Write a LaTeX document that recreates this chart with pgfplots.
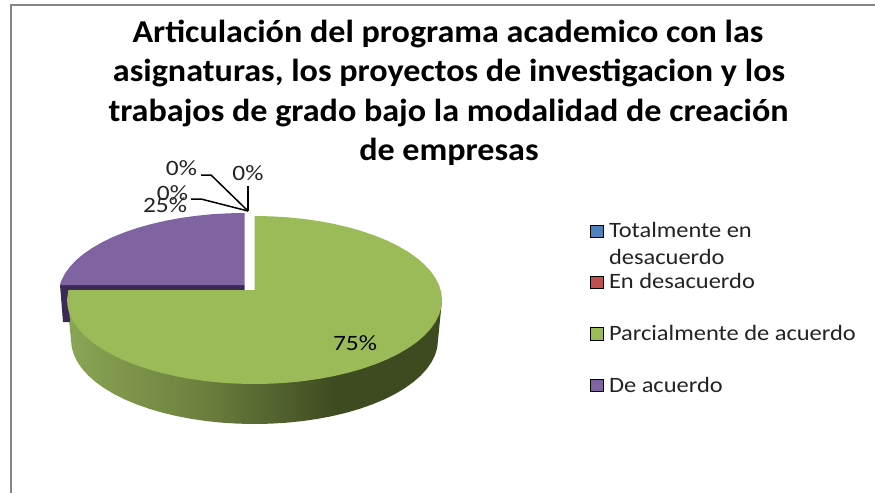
\documentclass[border=0pt]{standalone}
\usepackage{pgfplots}
\pgfplotsset{compat=1.18}
\usepackage{fontspec}
\setmainfont{Carlito}
\definecolor{pieblue}{RGB}{79,129,189}
\definecolor{piered}{RGB}{192,80,77}
\definecolor{piegreen}{RGB}{155,187,89}
\definecolor{piepurple}{RGB}{128,100,162}
\definecolor{darkpurple}{RGB}{59,42,85}
\definecolor{frameg}{RGB}{134,134,134}
\definecolor{labelc}{RGB}{35,35,35}
\definecolor{sideA}{RGB}{138,166,85}
\definecolor{sideB}{RGB}{108,128,62}
\definecolor{sideC}{RGB}{62,74,32}
\pgfdeclarehorizontalshading{greenside}{100bp}{color(0bp)=(sideA); color(25bp)=(sideA); color(43bp)=(sideB); color(61bp)=(sideC); color(100bp)=(sideC)}
\newcommand{\ttl}[1]{\scalebox{1.07}[1]{\fontsize{32}{38}\selectfont\bfseries #1}}
\newcommand{\leg}[1]{\scalebox{1.116}[1]{\fontsize{22}{26}\selectfont #1}}
\newcommand{\lab}[1]{\scalebox{1.16}[1]{\fontsize{22}{26}\selectfont #1}}
\begin{document}
\begin{tikzpicture}
\useasboundingbox (0,0) rectangle (875bp,493bp);
% everything is in image pixels, y running downwards
\begin{axis}[
  scale only axis, width=875bp, height=493bp,
  xmin=0, xmax=875, ymin=0, ymax=493, y dir=reverse,
  axis lines=none, ticks=none, clip=false,
  nodes={inner sep=0pt, outer sep=0pt, text=black}]

% frame
\addplot[frameg, line width=2.6bp] coordinates {(11,493)(11,5)(875,5)};

% ---- side of the 75% slice ----
\addplot[draw=none, shade, shading=greenside] coordinates {
  (442,300)(438,340)(437.3,347.32)(435.2,354.58)(431.75,361.74)(426.9,368.73)
  (420.8,375.5)(413.4,382)(404.8,388.18)(395.05,394)(384.25,399.4)(372.45,404.34)
  (359.75,408.81)(346.25,412.74)(332.05,416.13)(317.25,418.93)(302,421.14)
  (286.35,422.72)(270.5,423.68)(254.5,424)(238.5,423.68)(222.65,422.72)(207,421.14)
  (191.75,418.93)(176.95,416.13)(162.75,412.74)(149.25,408.81)(136.55,404.34)
  (124.75,399.4)(113.95,394)(104.2,388.18)(95.6,382)(88.2,375.5)(82.1,368.73)
  (77.25,361.74)(73.8,354.58)(71.7,347.32)(71,340)(67,300)};

% ---- side of the 25% slice ----
\addplot[draw=none, fill=darkpurple] coordinates {
  (60,285)(244.5,285)(244.5,291)(68,291)(70,322)(63,322)};

% ---- top of the 75% slice ----
\addplot[draw=none, fill=piegreen] coordinates {
  (254.5,216)(270.85,216.32)(287.05,217.28)(303,218.86)(318.6,221.07)(333.7,223.87)
  (348.25,227.26)(362.05,231.19)(375,235.66)(387.1,240.6)(398.1,246)(408.1,251.82)
  (416.9,258)(424.4,264.5)(430.7,271.27)(435.6,278.26)(439.15,285.42)(441.3,292.68)
  (442,300)(441.3,307.32)(439.15,314.58)(435.6,321.74)(430.7,328.73)(424.4,335.5)
  (416.9,342)(408.1,348.18)(398.1,354)(387.1,359.4)(375,364.34)(362.05,368.81)
  (348.25,372.74)(333.7,376.13)(318.6,378.93)(303,381.14)(287.05,382.72)(270.85,383.68)
  (254.5,384)(238.15,383.68)(221.95,382.72)(206,381.14)(190.4,378.93)(175.3,376.13)
  (160.75,372.74)(146.95,368.81)(134,364.34)(121.9,359.4)(110.9,354)(100.9,348.18)
  (92.1,342)(84.6,335.5)(78.3,328.73)(73.4,321.74)(69.85,314.58)(67.7,307.32)
  (67,300)(68.4,290)(254.5,290)};

% ---- top of the 25% slice ----
\addplot[draw=none, fill=piepurple] coordinates {
  (244.5,213)(228.3,213.3)(212.2,214.2)(196.4,215.8)(180.9,217.9)(165.9,220.7)
  (151.5,224)(137.8,227.8)(124.9,232.2)(113,237)(102,242.3)(92.2,248)
  (83.4,254)(76,260.3)(69.7,267)(64.8,273.8)(61.3,280.8)(59.9,285)(244.5,285)};

% ---- leader lines of the labels ----
\addplot[black, line width=1.5bp] coordinates {(201,175)(211,175)(248,211)};
\addplot[black, line width=1.5bp] coordinates {(191,199)(201,199)(248,211)};
\addplot[black, line width=1.5bp] coordinates {(248,186)(248,211)};

% ---- legend keys ----
\addplot[only marks, mark=square*, mark size=6.2bp, mark options={draw=none, fill=pieblue}] coordinates {(596.5,231)};
\addplot[only marks, mark=square*, mark size=6.2bp, mark options={draw=none, fill=piered}] coordinates {(596.5,282)};
\addplot[only marks, mark=square*, mark size=6.2bp, mark options={draw=none, fill=piegreen}] coordinates {(596.5,333.5)};
\addplot[only marks, mark=square*, mark size=6.2bp, mark options={draw=none, fill=piepurple}] coordinates {(596.5,385)};

% ---- title ----
\node[anchor=base] at (axis cs:448,43) {\ttl{Articulación del programa academico con las}};
\node[anchor=base] at (axis cs:449,82) {\ttl{asignaturas, los proyectos de investigacion y los}};
\node[anchor=base] at (axis cs:448.5,121) {\ttl{trabajos de grado bajo la modalidad de creación}};
\node[anchor=base] at (axis cs:449,160) {\ttl{de empresas}};

% ---- data labels ----
\node[text=labelc] at (axis cs:181.5,168) {\lab{0\%}};
\node[text=labelc] at (axis cs:248,173) {\lab{0\%}};
\node[text=labelc] at (axis cs:165,205) {\lab{25\%}};
\node[text=labelc] at (axis cs:172.5,193) {\lab{0\%}};
\node[text=black] at (axis cs:355,343) {\lab{75\%}};

% ---- legend text ----
\node[anchor=base west, text=labelc] at (axis cs:609,237) {\leg{Totalmente en}};
\node[anchor=base west, text=labelc] at (axis cs:609,264) {\leg{desacuerdo}};
\node[anchor=base west, text=labelc] at (axis cs:609,288) {\leg{En desacuerdo}};
\node[anchor=base west, text=labelc] at (axis cs:609,340) {\leg{Parcialmente de acuerdo}};
\node[anchor=base west, text=labelc] at (axis cs:609,392) {\leg{De acuerdo}};
\end{axis}
\end{tikzpicture}
\end{document}
